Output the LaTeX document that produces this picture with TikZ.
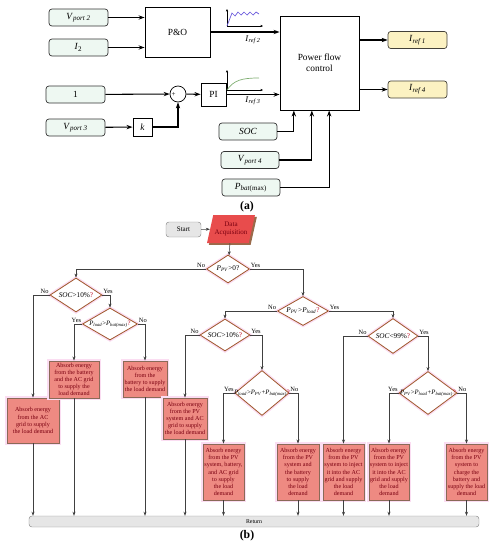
\documentclass[tikz,border=0pt]{standalone}
\usepackage{amsmath}
\usepackage{fontspec}
\setmainfont{Liberation Serif}
\usetikzlibrary{shapes.geometric,arrows.meta,positioning,calc,shadows}

\definecolor{inbox}{HTML}{EEF8F2}
\definecolor{outbox}{HTML}{FCF2C2}
\definecolor{actfill}{HTML}{EE8A82}
\definecolor{actdraw}{HTML}{8A6A58}
\definecolor{acttext}{HTML}{7A0010}
\definecolor{glow}{HTML}{FBDDF2}
\definecolor{decdraw}{HTML}{A0582E}
\definecolor{qred}{HTML}{C0102A}
\definecolor{daqfill}{HTML}{E84C4C}
\definecolor{daqshadow}{HTML}{9A6A4A}
\definecolor{termfill}{HTML}{E6E6E6}
\definecolor{waveblue}{HTML}{6A5ADC}
\definecolor{wavegreen}{HTML}{7FAE72}

\newcommand{\qm}{\textcolor{qred}{?}}
\newcommand{\sv}[2]{\textit{#1}\textsubscript{\textit{#2}}}

\begin{document}
\begin{tikzpicture}[
    x=0.03cm, y=-0.03cm,
    >={Stealth[length=1.8mm, width=1.3mm]},
    sig/.style={draw=black!80, rounded corners=2.5pt, fill=inbox, line width=0.6pt, minimum width=1.77cm, minimum height=0.51cm, font=\fontsize{8}{9}\selectfont},
    outsig/.style={sig, fill=outbox, draw=black!75!yellow!60!black},
    block/.style={draw, line width=0.8pt, fill=white, align=center, font=\fontsize{8}{9.5}\selectfont},
    sumnode/.style={draw, circle, line width=0.6pt, minimum size=0.48cm, inner sep=0pt},
    sigline/.style={->, line width=0.9pt},
    axis/.style={-{Stealth[length=0.8mm, width=0.7mm]}, line width=0.3pt},
    reflab/.style={font=\fontsize{7.5}{8}\selectfont, inner sep=0pt},
    term/.style={draw=black!45, fill=termfill, rounded corners=2.5pt, font=\fontsize{6}{7}\selectfont, inner sep=0pt},
    act/.style={draw=actdraw, line width=0.8pt, fill=actfill, text=acttext, align=center, inner sep=0pt,
        font=\fontsize{5.2}{6.1}\selectfont, preaction={draw=glow, line width=3.5pt}},
    decision/.style={diamond, draw=decdraw, line width=0.7pt, fill=white, inner sep=0pt,
        preaction={draw=glow, line width=3pt}},
    dlab/.style={font=\fontsize{6.2}{7}\selectfont, inner sep=0pt},
    slab/.style={font=\fontsize{5.7}{6}\selectfont, inner sep=0pt},
    yn/.style={font=\fontsize{5.5}{6}\selectfont, inner sep=0.6pt},
    flow/.style={-{Stealth[length=1.2mm, width=0.9mm]}, draw=black!75, line width=0.45pt},
]
\useasboundingbox (0,0) rectangle (502,550);

% (a) control structure
\node[sig] (vp2) at (78.5,17.5) {\sv{V}{port 2}};
\node[sig] (itwo) at (78.5,47.5) {\textit{I}\textsubscript{2}};
\node[block, minimum width=1.95cm, minimum height=1.5cm] (pando) at (177.5,32) {P\&O};

\node[sig] (one) at (75.5,94.5) {1};
\node[sig] (vp3) at (75.5,127.5) {\sv{V}{port 3}};
\node[sumnode] (sum) at (178,94) {};
\node[font=\fontsize{6}{6}\selectfont, inner sep=0pt] (plus) at ([xshift=-0.13cm,yshift=-0.03cm]sum.center) {+};
\node[block, minimum width=0.57cm, minimum height=0.54cm, inner sep=0pt] (kgain) at (142.5,127) {\textit{k}};
\node[block, minimum width=0.75cm, minimum height=0.69cm, inner sep=0pt] (pi) at (213.5,94.5) {PI};

\node[block, minimum width=2.37cm, minimum height=2.82cm] (pfc) at (319.5,63) {Power flow\\control};
\node[outsig] (iref1) at (417.5,40) {\sv{I}{ref 1}};
\node[outsig] (iref4) at (417.5,89.5) {\sv{I}{ref 4}};

\node[sig, minimum width=1.74cm] (soc) at (248,131.5) {\textit{SOC}};
\node[sig, minimum width=1.74cm] (vp4) at (250,160) {\sv{V}{port 4}};
\node[sig, minimum width=1.74cm] (pbat) at (251,187.5) {\textit{P}\textsubscript{\textit{bat}(max)}};

\node[reflab] (lref2) at (253,40) {\sv{I}{ref 2}};
\node[reflab] (lref3) at (253,101) {\sv{I}{ref 3}};

% signal lines
\draw[sigline] (vp2) -- (vp2 -| pando.west);
\draw[sigline] (itwo) -- (itwo -| pando.west);
\draw[sigline] (pando.east) -- (pando.east -| pfc.west);
\draw[sigline] (one) -- (sum);
\draw[sigline] (vp3) -- (kgain);
\draw[sigline] (kgain) -| (sum);
\draw[sigline] (sum) -- (pi);
\draw[sigline] (pi.east) -- (pi.east -| pfc.west);
\draw[sigline] (pfc.east |- iref1) -- (iref1);
\draw[sigline] (pfc.east |- iref4) -- (iref4);
\draw[sigline] (soc.east) -| ([xshift=-0.77cm]pfc.south);
\draw[sigline] (vp4.east) -| ([xshift=-0.23cm]pfc.south);
\draw[sigline] (pbat.east) -| ([xshift=0.29cm]pfc.south);

% small waveforms
\draw[axis] (227,26) -- (227,9);
\draw[axis] (227,26) -- (263,26);
\draw[waveblue, line width=0.6pt] (227,26) -- (232,13) -- (235,16) -- (238,12) -- (241,15) -- (244,12)
    -- (247,15) -- (250,12) -- (253,15) -- (256,12) -- (259,14);
\draw[axis] (227,90) -- (227,70);
\draw[axis] (227,90) -- (263,90);
\draw[wavegreen, line width=0.6pt] (227,90) .. controls (234,80) and (242,78) .. (259,78);

\node[font=\bfseries\fontsize{10}{12}\selectfont] (capa) at (247,207) {(a)};

% (b) flowchart
\node[term, minimum width=1.05cm, minimum height=0.45cm] (start) at (183.5,229.5) {Start};
\node[trapezium, trapezium left angle=68, trapezium right angle=112, trapezium stretches=true,
    minimum width=1.44cm, minimum height=0.84cm, inner sep=0pt, fill=daqfill, text=acttext, align=center,
    font=\fontsize{6}{7}\selectfont,
    drop shadow={shadow xshift=1.6pt, shadow yshift=-1.6pt, fill=daqshadow, opacity=1}] (daq) at (231,229) {Data\\Acquisition};

\node[decision, minimum width=1.29cm, minimum height=0.84cm, label={[dlab]center:{\sv{P}{PV}>0?}}] (d1) at (228,269) {};
\node[decision, minimum width=1.53cm, minimum height=0.87cm, label={[dlab]center:{\sv{P}{PV}>\sv{P}{load}\qm}}] (d2) at (303,311) {};
\node[decision, minimum width=1.56cm, minimum height=1.02cm, label={[dlab]center:{\textit{SOC}>10\%\qm}}] (dL1) at (76,295) {};
\node[decision, minimum width=1.65cm, minimum height=0.96cm, label={[slab]center:{\sv{P}{load}>\sv{P}{bat(max)}\qm}}] (dL2) at (110,324) {};
\node[decision, minimum width=1.5cm, minimum height=0.96cm, label={[dlab]center:{\textit{SOC}>10\%\qm}}] (d3) at (225,335) {};
\node[decision, minimum width=1.62cm, minimum height=1.35cm, label={[slab]center:{\sv{P}{load}>\sv{P}{PV}+\sv{P}{bat(max)}\qm}}] (d4) at (262,393) {};
\node[decision, minimum width=1.5cm, minimum height=1.05cm, label={[dlab]center:{\textit{SOC}<99\%\qm}}] (d5) at (393,336) {};
\node[decision, minimum width=1.74cm, minimum height=1.29cm, label={[slab]center:{\sv{P}{PV}>\sv{P}{load}+\sv{P}{bat(max)}\qm}}] (d6) at (428,393) {};

\node[act, minimum width=1.56cm, minimum height=1.35cm] (bA) at (33,420.5) {Absorb energy\\from the AC\\grid to supply\\the load demand};
\node[act, minimum width=1.5cm, minimum height=1.11cm] (bB) at (74,379.5) {Absorb energy\\from the battery\\and the AC grid\\to supply the\\load demand};
\node[act, minimum width=1.32cm, minimum height=1.08cm] (bC) at (145,379) {Absorb energy\\from the\\battery to supply\\the load demand};
\node[act, minimum width=1.32cm, minimum height=1.23cm] (bD) at (185,418.5) {Absorb energy\\from the PV\\system and AC\\grid to supply\\the load demand};
\node[act, minimum width=1.23cm, minimum height=1.68cm] (bE) at (223.5,472) {Absorb energy\\from the PV\\system, battery,\\and AC grid\\to supply\\the load\\demand};
\node[act, minimum width=1.26cm, minimum height=1.68cm] (bF) at (298,472) {Absorb energy\\from the PV\\system and\\the battery\\to supply\\the load\\demand};
\node[act, minimum width=1.23cm, minimum height=1.68cm] (bG) at (343.5,472) {Absorb energy\\from the PV\\system to inject\\it into the AC\\grid and supply\\the load\\demand};
\node[act, minimum width=1.2cm, minimum height=1.68cm] (bH) at (389,472) {Absorb energy\\from the PV\\system to inject\\it into the AC\\grid and supply\\the load\\demand};
\node[act, minimum width=1.23cm, minimum height=1.68cm] (bI) at (466.5,472) {Absorb energy\\from the PV\\system to\\charge the\\battery and\\supply the load\\demand};

\node[term, minimum width=13.5cm, minimum height=0.33cm, font=\fontsize{5}{6}\selectfont] (ret) at (254,521.5) {Return};

% flow connectors
\draw[flow] (start) -- (daq);
\draw[flow] (daq) -- (d1);
\draw[flow] (d1.west) -| node[yn, pos=0, above left] {No} (dL1.north);
\draw[flow] (d1.east) -| node[yn, pos=0, above right] {Yes} (d2.north);
\draw[flow] (dL1.west) -| node[yn, pos=0, above left] {No} (bA.north);
\draw[flow] (dL1.east) -| node[yn, pos=0, above right] {Yes} (dL2.north);
\draw[flow] (dL2.west) -| node[yn, pos=0, above left] {Yes} (bB.north);
\draw[flow] (dL2.east) -| node[yn, pos=0, above right] {No} (bC.north);
\draw[flow] (d2.west) -| node[yn, pos=0, above left] {No} (d3.north);
\draw[flow] (d2.east) -| node[yn, pos=0, above right] {Yes} (d5.north);
\draw[flow] (d3.west) -| node[yn, pos=0, above left] {No} (bD.north);
\draw[flow] (d3.east) -| node[yn, pos=0, above right] {Yes} (d4.north);
\draw[flow] (d4.west) -| node[yn, pos=0, above left] {Yes} (bE.north);
\draw[flow] (d4.east) -| node[yn, pos=0, above right] {No} (bF.north);
\draw[flow] (d5.west) -| node[yn, pos=0, above left] {No} (bG.north);
\draw[flow] (d5.east) -| node[yn, pos=0, above right] {Yes} (d6.north);
\draw[flow] (d6.west) -| node[yn, pos=0, above left] {Yes} (bH.north);
\draw[flow] (d6.east) -| node[yn, pos=0, above right] {No} (bI.north);

\foreach \b in {bA,bB,bC,bD,bE,bF,bG,bH,bI}
    \draw[flow] (\b) -- (\b |- ret.north);

\node[font=\bfseries\fontsize{10}{12}\selectfont] (capb) at (247,536) {(b)};

\end{tikzpicture}
\end{document}
